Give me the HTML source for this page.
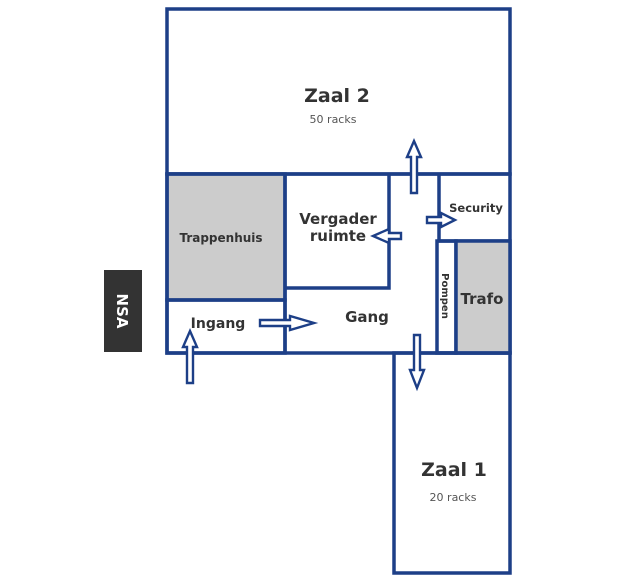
<!DOCTYPE html>
<html><head><style>html,body{margin:0;padding:0;background:#fff}svg{display:block}</style></head>
<body>
<svg width="640" height="578" viewBox="0 0 640 578" xmlns="http://www.w3.org/2000/svg" font-family="'DejaVu Sans', 'Liberation Sans', sans-serif" font-weight="bold">
<rect width="640" height="578" fill="#fff"/>
<g fill="none" stroke="#1d3f87" stroke-width="3.5">
<rect x="167" y="9" width="343" height="165"/>
<rect x="167" y="174" width="118" height="126" fill="#cccccc"/>
<rect x="167" y="300" width="118" height="53"/>
<rect x="167" y="174" width="343" height="179"/>
<polyline points="285,174 285,353"/>
<polyline points="285,288 389,288 389,174"/>
<polyline points="439,174 439,241 510,241"/>
<rect x="437" y="241" width="19" height="112"/>
<rect x="456" y="241" width="54" height="112" fill="#cccccc"/>
<rect x="394" y="353" width="116" height="220"/>
</g>
<g fill="#fff" stroke="#1d3f87" stroke-width="2.4" stroke-linejoin="miter">
<polygon points="411,193 411,157 407,157 414,141 421,157 417,157 417,193"/>
<polygon points="401,233 389,233 389,229 373,236 389,243 389,239 401,239"/>
<polygon points="427,217 441,217 441,213 455,220 441,227 441,223 427,223"/>
<polygon points="260,320 290,320 290,316 314,323 290,330 290,326 260,326"/>
<polygon points="414,335 414,370 410,370 417,388 424,370 420,370 420,335"/>
<polygon points="187,383 187,347 183,347 190,331 197,347 193,347 193,383"/>
</g>
<rect x="104" y="270" width="38" height="82" fill="#333"/>
<text x="0" y="0" transform="translate(117,311) rotate(90)" fill="#fff" font-size="15" text-anchor="middle">NSA</text>
<g fill="#333" text-anchor="middle">
<text x="337" y="102" font-size="19">Zaal 2</text>
<text x="333" y="123" font-size="11" font-weight="normal" fill="#555">50 racks</text>
<text x="221" y="242" font-size="12">Trappenhuis</text>
<text x="338" y="224" font-size="15">Vergader</text>
<text x="338" y="241" font-size="15">ruimte</text>
<text x="476" y="212" font-size="11.5">Security</text>
<text x="482" y="304" font-size="15">Trafo</text>
<text x="0" y="0" transform="translate(442,296) rotate(90)" font-size="10" text-anchor="middle">Pompen</text>
<text x="218" y="328" font-size="14">Ingang</text>
<text x="367" y="322" font-size="15">Gang</text>
<text x="454" y="476" font-size="19">Zaal 1</text>
<text x="453" y="501" font-size="11" font-weight="normal" fill="#555">20 racks</text>
</g>
</svg>
</body></html>
